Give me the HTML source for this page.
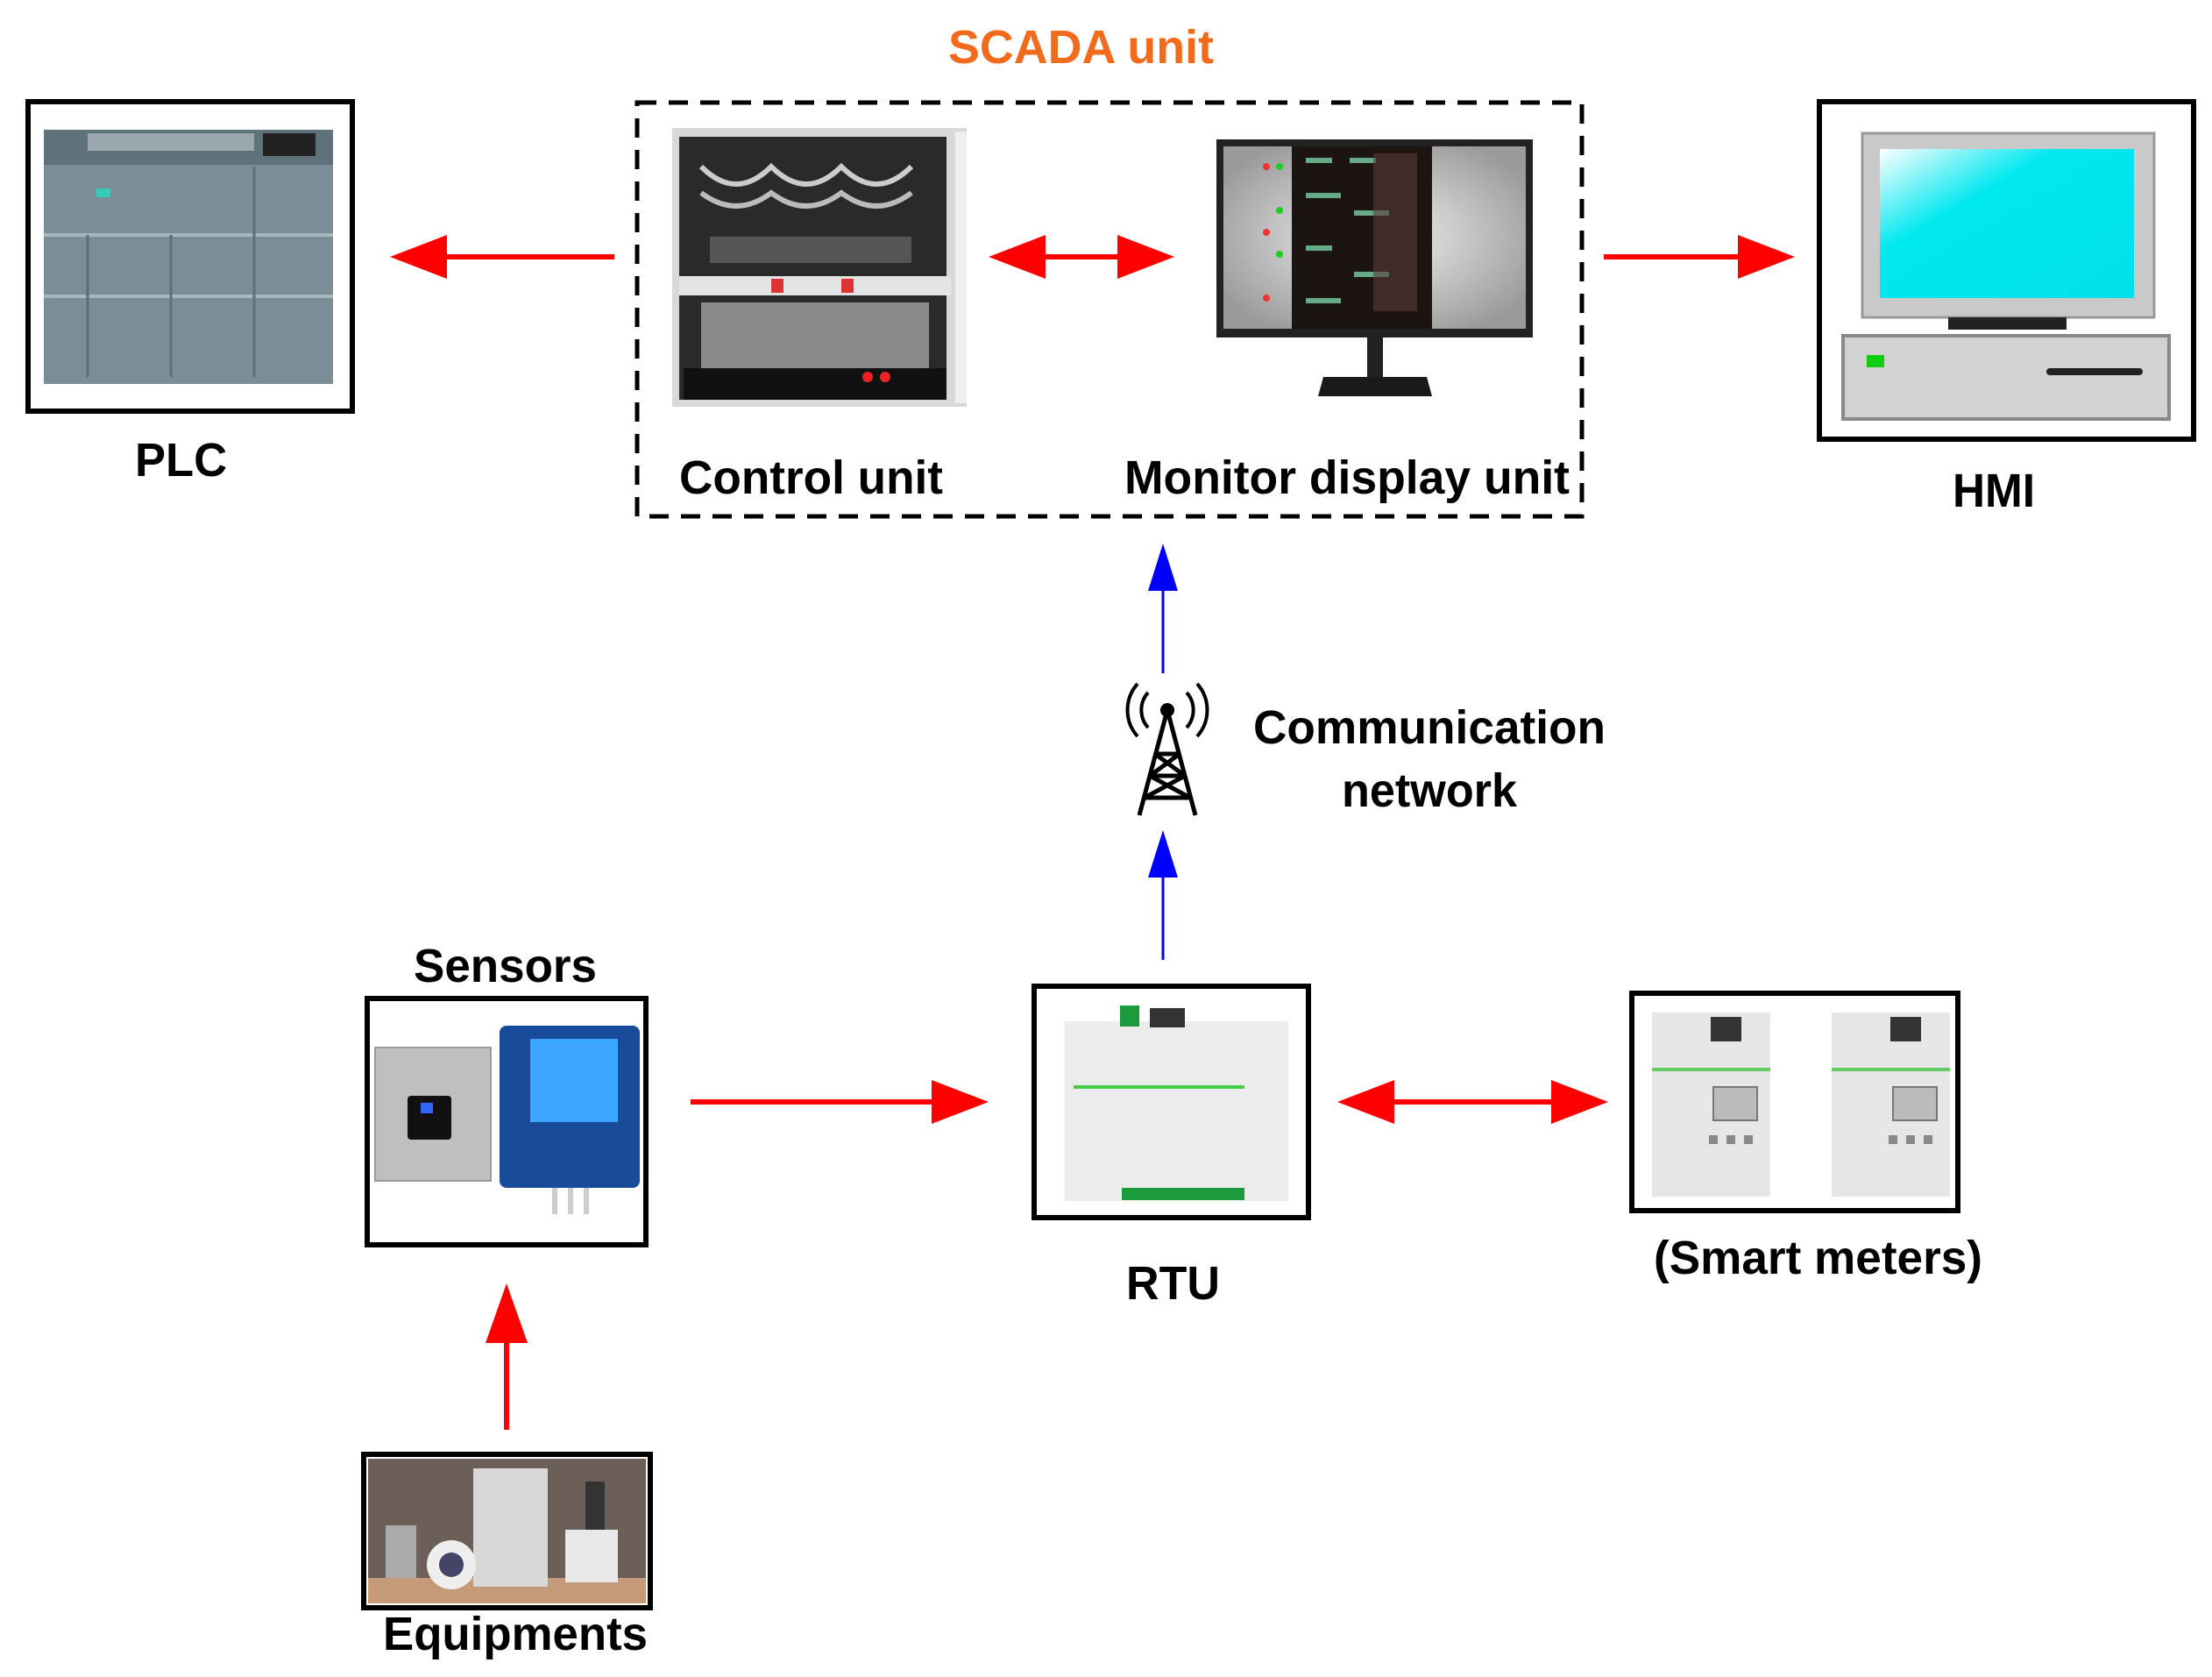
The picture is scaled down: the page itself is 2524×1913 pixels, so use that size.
<!DOCTYPE html>
<html><head><meta charset="utf-8"><style>html,body{margin:0;padding:0;background:#fff}svg{display:block}</style></head>
<body>
<svg width="2524" height="1913" viewBox="0 0 2524 1913" xmlns="http://www.w3.org/2000/svg" font-family="Liberation Sans, sans-serif" font-weight="bold">
<defs>
<linearGradient id="scr" x1="0" y1="0" x2="1" y2="1"><stop offset="0" stop-color="#ffffff"/><stop offset="0.35" stop-color="#00e8f0"/><stop offset="1" stop-color="#00e0ea"/></linearGradient>
<radialGradient id="mon" cx="0.5" cy="0.5" r="0.6"><stop offset="0" stop-color="#f4f4f4"/><stop offset="1" stop-color="#9a9a9a"/></radialGradient>
</defs>
<!-- Title -->
<text x="1082" y="72" font-size="54" fill="#f26b1d" textLength="303" lengthAdjust="spacingAndGlyphs">SCADA unit</text>

<!-- PLC -->
<rect x="32" y="116" width="370" height="353" fill="#fff" stroke="#000" stroke-width="6"/>
<rect x="50" y="148" width="330" height="290" fill="#7a8e98"/>
<rect x="50" y="148" width="330" height="40" fill="#5f717a"/>
<rect x="100" y="152" width="190" height="20" fill="#9aa8ae"/>
<rect x="300" y="152" width="60" height="26" fill="#222"/>
<rect x="110" y="215" width="16" height="10" fill="#3cb"/>
<line x1="50" y1="268" x2="380" y2="268" stroke="#a9b6bc" stroke-width="4"/>
<line x1="50" y1="338" x2="380" y2="338" stroke="#a9b6bc" stroke-width="4"/>
<line x1="100" y1="268" x2="100" y2="430" stroke="#5d6e76" stroke-width="3"/>
<line x1="195" y1="268" x2="195" y2="430" stroke="#5d6e76" stroke-width="3"/>
<line x1="290" y1="190" x2="290" y2="430" stroke="#5d6e76" stroke-width="3"/>
<text x="154" y="543" font-size="54" textLength="105" lengthAdjust="spacingAndGlyphs">PLC</text>

<!-- SCADA dashed box -->
<rect x="727" y="117" width="1078" height="472" fill="none" stroke="#000" stroke-width="5" stroke-dasharray="22,14"/>
<!-- control cabinet -->
<rect x="767" y="146" width="336" height="318" fill="#d8d8d8"/>
<rect x="775" y="156" width="305" height="300" fill="#2a2a2a"/>
<path d="M800 190 q40 40 80 0 q40 40 80 0 q40 40 80 0" stroke="#ccc" stroke-width="6" fill="none"/>
<path d="M800 220 q40 30 80 0 q40 30 80 0 q40 30 80 0" stroke="#bbb" stroke-width="6" fill="none"/>
<rect x="810" y="270" width="230" height="30" fill="#555"/>
<rect x="775" y="315" width="310" height="22" fill="#e4e4e4"/>
<rect x="880" y="318" width="14" height="16" fill="#d33"/>
<rect x="960" y="318" width="14" height="16" fill="#d33"/>
<rect x="800" y="345" width="260" height="80" fill="#8a8a8a"/>
<rect x="780" y="420" width="300" height="36" fill="#111"/>
<circle cx="990" cy="430" r="6" fill="#e22"/>
<circle cx="1010" cy="430" r="6" fill="#e22"/>
<rect x="1090" y="150" width="13" height="310" fill="#eee"/>
<!-- monitor -->
<rect x="1388" y="159" width="361" height="226" fill="#222"/>
<rect x="1396" y="167" width="345" height="208" fill="url(#mon)"/>
<rect x="1474" y="167" width="160" height="208" fill="#1c1410"/>
<g fill="#6a8">
<rect x="1490" y="180" width="30" height="6"/><rect x="1540" y="180" width="30" height="6"/><rect x="1490" y="220" width="40" height="6"/><rect x="1545" y="240" width="40" height="6"/><rect x="1490" y="280" width="30" height="6"/><rect x="1545" y="310" width="40" height="6"/><rect x="1490" y="340" width="40" height="6"/>
</g>
<rect x="1567" y="175" width="50" height="180" fill="#5a3a3a" opacity="0.6"/>
<g fill="#2c2"><circle cx="1460" cy="190" r="4"/><circle cx="1460" cy="240" r="4"/><circle cx="1460" cy="290" r="4"/></g>
<g fill="#e33"><circle cx="1445" cy="190" r="4"/><circle cx="1445" cy="265" r="4"/><circle cx="1445" cy="340" r="4"/></g>
<rect x="1560" y="385" width="18" height="45" fill="#222"/>
<path d="M1510 430 h118 l6 22 h-130 z" fill="#1a1a1a"/>
<text x="775" y="563" font-size="54" textLength="301" lengthAdjust="spacingAndGlyphs">Control unit</text>
<text x="1283" y="563" font-size="54" textLength="508" lengthAdjust="spacingAndGlyphs">Monitor display unit</text>

<!-- HMI -->
<rect x="2076" y="116" width="427" height="385" fill="#fff" stroke="#000" stroke-width="6"/>
<rect x="2125" y="152" width="333" height="210" fill="#c9c9c9" stroke="#999" stroke-width="3"/>
<rect x="2145" y="170" width="290" height="170" fill="url(#scr)"/>
<rect x="2223" y="362" width="135" height="14" fill="#222"/>
<rect x="2103" y="383" width="372" height="95" fill="#d2d2d2" stroke="#888" stroke-width="4"/>
<rect x="2130" y="405" width="20" height="14" fill="#1c1"/>
<rect x="2335" y="420" width="110" height="8" rx="4" fill="#222"/>
<text x="2228" y="578" font-size="54" textLength="94" lengthAdjust="spacingAndGlyphs">HMI</text>

<!-- Red arrows top -->
<g fill="#f00" stroke="#f00">
<line x1="701" y1="293" x2="500" y2="293" stroke-width="6"/>
<path d="M445 293 L510 268 L510 318 Z" stroke="none"/>
<line x1="1175" y1="293" x2="1295" y2="293" stroke-width="6"/>
<path d="M1128 293 L1193 268 L1193 318 Z" stroke="none"/>
<path d="M1340 293 L1275 268 L1275 318 Z" stroke="none"/>
<line x1="1830" y1="293" x2="1990" y2="293" stroke-width="6"/>
<path d="M2048 293 L1983 268 L1983 318 Z" stroke="none"/>
</g>

<!-- Blue arrows -->
<g fill="#00f" stroke="#00f">
<line x1="1327" y1="768" x2="1327" y2="660" stroke-width="3"/>
<path d="M1327 620 L1310 674 L1344 674 Z" stroke="none"/>
<line x1="1327" y1="1095" x2="1327" y2="990" stroke-width="3"/>
<path d="M1327 947 L1310 1001 L1344 1001 Z" stroke="none"/>
</g>

<!-- Tower -->
<g stroke="#000" fill="none" stroke-width="5">
<path d="M1332 810 L1300 930 M1332 810 L1364 930 M1312 885 L1352 885 M1306 910 L1358 910 M1318 860 L1346 860 M1312 885 L1346 860 M1352 885 L1318 860 M1306 910 L1352 885 M1358 910 L1312 885"/>
<path d="M1310 790 a30 30 0 0 0 0 40 M1298 780 a45 45 0 0 0 0 60 M1354 790 a30 30 0 0 1 0 40 M1366 780 a45 45 0 0 1 0 60" stroke-width="4"/>
</g>
<circle cx="1332" cy="810" r="8" fill="#000"/>
<text x="1430" y="848" font-size="54" textLength="402" lengthAdjust="spacingAndGlyphs">Communication</text>
<text x="1531" y="920" font-size="54" textLength="200" lengthAdjust="spacingAndGlyphs">network</text>

<!-- Sensors -->
<text x="472" y="1120" font-size="54" textLength="209" lengthAdjust="spacingAndGlyphs">Sensors</text>
<rect x="419" y="1139" width="318" height="281" fill="#fff" stroke="#000" stroke-width="6"/>
<rect x="428" y="1195" width="132" height="152" fill="#bfbfbf" stroke="#999" stroke-width="2"/>
<rect x="465" y="1250" width="50" height="50" rx="4" fill="#111"/>
<rect x="480" y="1258" width="14" height="12" fill="#36f"/>
<rect x="570" y="1170" width="160" height="185" rx="8" fill="#1a4b9a"/>
<rect x="605" y="1185" width="100" height="95" fill="#3aa6ff"/>
<g fill="#ccc"><rect x="630" y="1355" width="6" height="30"/><rect x="648" y="1355" width="6" height="30"/><rect x="666" y="1355" width="6" height="30"/></g>

<!-- Sensors -> RTU -->
<g fill="#f00" stroke="#f00">
<line x1="788" y1="1257" x2="1075" y2="1257" stroke-width="6"/>
<path d="M1128 1257 L1063 1232 L1063 1282 Z" stroke="none"/>
<line x1="1580" y1="1257" x2="1780" y2="1257" stroke-width="6"/>
<path d="M1526 1257 L1591 1232 L1591 1282 Z" stroke="none"/>
<path d="M1835 1257 L1770 1232 L1770 1282 Z" stroke="none"/>
<line x1="578" y1="1631" x2="578" y2="1510" stroke-width="6"/>
<path d="M578 1464 L554 1532 L602 1532 Z" stroke="none"/>
</g>

<!-- RTU -->
<rect x="1180" y="1125" width="313" height="264" fill="#fff" stroke="#000" stroke-width="6"/>
<rect x="1215" y="1165" width="255" height="205" fill="#ececec"/>
<rect x="1278" y="1147" width="22" height="24" fill="#1a9a3a"/>
<rect x="1312" y="1150" width="40" height="22" fill="#333"/>
<line x1="1225" y1="1240" x2="1420" y2="1240" stroke="#4c4" stroke-width="4"/>
<rect x="1280" y="1355" width="140" height="14" fill="#1a9a3a"/>
<text x="1285" y="1482" font-size="54" textLength="107" lengthAdjust="spacingAndGlyphs">RTU</text>

<!-- Smart meters -->
<rect x="1862" y="1133" width="372" height="248" fill="#fff" stroke="#000" stroke-width="6"/>
<g>
<rect x="1885" y="1155" width="135" height="210" fill="#e6e6e6"/>
<rect x="1952" y="1160" width="35" height="28" fill="#333"/>
<line x1="1885" y1="1220" x2="2020" y2="1220" stroke="#6c6" stroke-width="4"/>
<rect x="1955" y="1240" width="50" height="38" fill="#bbb" stroke="#777" stroke-width="2"/>
<g fill="#888"><rect x="1950" y="1295" width="10" height="10"/><rect x="1970" y="1295" width="10" height="10"/><rect x="1990" y="1295" width="10" height="10"/></g>
<rect x="2090" y="1155" width="135" height="210" fill="#e6e6e6"/>
<rect x="2157" y="1160" width="35" height="28" fill="#333"/>
<line x1="2090" y1="1220" x2="2225" y2="1220" stroke="#6c6" stroke-width="4"/>
<rect x="2160" y="1240" width="50" height="38" fill="#bbb" stroke="#777" stroke-width="2"/>
<g fill="#888"><rect x="2155" y="1295" width="10" height="10"/><rect x="2175" y="1295" width="10" height="10"/><rect x="2195" y="1295" width="10" height="10"/></g>
</g>
<text x="1887" y="1453" font-size="54" textLength="375" lengthAdjust="spacingAndGlyphs">(Smart meters)</text>

<!-- Equipments -->
<rect x="415" y="1659" width="327" height="175" fill="#fff" stroke="#000" stroke-width="6"/>
<rect x="420" y="1664" width="317" height="165" fill="#6b5f58"/>
<rect x="420" y="1800" width="317" height="29" fill="#c49a78"/>
<rect x="540" y="1675" width="85" height="135" fill="#d8d8d8"/>
<circle cx="515" cy="1785" r="28" fill="#eee"/>
<circle cx="515" cy="1785" r="14" fill="#446"/>
<rect x="645" y="1745" width="60" height="60" fill="#e8e8e8"/>
<rect x="440" y="1740" width="35" height="60" fill="#aaa"/>
<rect x="668" y="1690" width="22" height="55" fill="#333"/>
<text x="437" y="1882" font-size="54" textLength="302" lengthAdjust="spacingAndGlyphs">Equipments</text>
</svg>
</body></html>
